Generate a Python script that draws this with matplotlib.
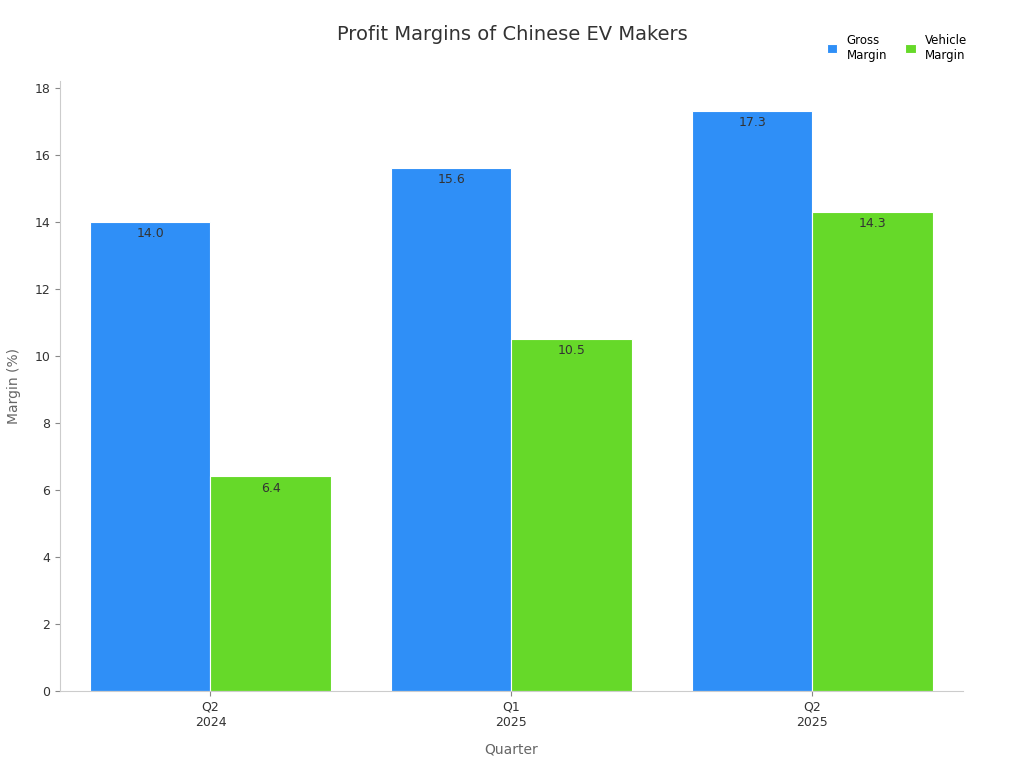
import matplotlib
matplotlib.use("Agg")
import matplotlib.pyplot as plt
import numpy as np

quarters = ["Q2\n2024", "Q1\n2025", "Q2\n2025"]
gross = [14.0, 15.6, 17.3]
vehicle = [6.4, 10.5, 14.3]

fig = plt.figure(figsize=(10.24, 7.68), dpi=100)
ax = fig.add_axes([0.0586, 0.1003, 0.8816, 0.7942])
x = np.arange(len(quarters))
w = 0.4
b1 = ax.bar(x - w/2, gross, w, color="#2f8ff7", edgecolor="white", linewidth=0.8, label="Gross\nMargin")
b2 = ax.bar(x + w/2, vehicle, w, color="#66d929", edgecolor="white", linewidth=0.8, label="Vehicle\nMargin")
for bars in (b1, b2):
    for r in bars:
        ax.text(r.get_x() + r.get_width()/2, r.get_height() - 0.15, f"{r.get_height():.1f}",
                ha="center", va="top", fontsize=9, color="#333333")
ax.set_xlim(-0.5, 2.5)
ax.set_ylim(0, 18.2)
ax.set_yticks(range(0, 19, 2))
ax.set_xticks(x)
ax.set_xticklabels(quarters, fontsize=9, color="#333333")
ax.tick_params(axis="y", labelsize=9, colors="#333333")
ax.tick_params(color="#888888")
for s in ("top", "right"):
    ax.spines[s].set_visible(False)
for s in ("left", "bottom"):
    ax.spines[s].set_color("#cccccc")
ax.set_xlabel("Quarter", fontsize=10, color="#666666", labelpad=10)
ax.set_ylabel("Margin (%)", fontsize=10, color="#666666", labelpad=10)
fig.text(0.5, 0.955, "Profit Margins of Chinese EV Makers", ha="center", va="center", fontsize=14, color="#333333")
fig.legend(loc="upper right", bbox_to_anchor=(0.955, 0.97), ncol=2, frameon=False, fontsize=8.5,
           handlelength=0.9, handleheight=0.9, columnspacing=1.5)
fig.savefig("out.png", dpi=100)
